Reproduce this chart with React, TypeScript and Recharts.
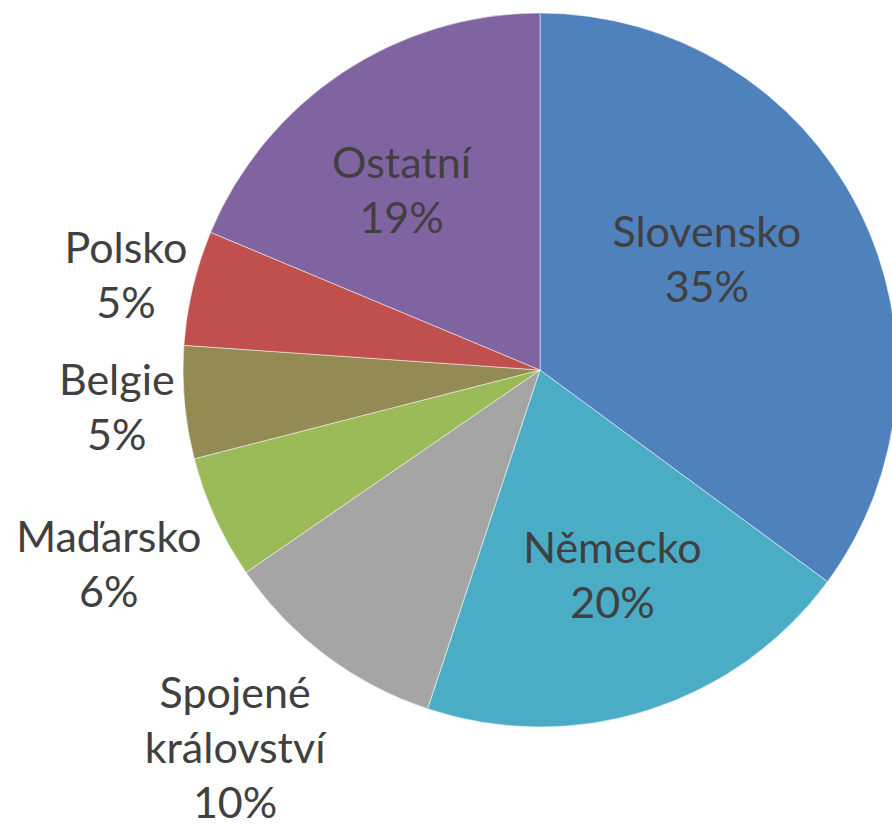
import React from "react";
import { PieChart, Pie, Cell } from "recharts";

const categories = ["Slovensko", "Německo", "Spojené království", "Maďarsko", "Belgie", "Polsko", "Ostatní"];
const shares = [35.1, 20.0, 10.3, 5.6, 5.1, 5.2, 18.7];
const colors = ["#4F81BD", "#4BACC6", "#A5A5A5", "#9BBB59", "#948A54", "#C0504D", "#8064A2"];

// label placement (layout only): radius factor and clockwise angle adjustment
const labelRadius = [0.56, 0.61, 1.36, 1.325, 1.19, 1.19, 0.636];
const labelAngleAdj = [-6.6, -1.8, 2.0, 0.2, 0.2, -0.4, -3.9];

const data = categories.map((name, i) => ({ name, value: shares[i] }));

const RAD = Math.PI / 180;
const FONT = 43;
const LH = 55;

const renderLabel = (props: any) => {
  const { cx, cy, midAngle, outerRadius, percent, index, name } = props;
  const ang = midAngle - labelAngleAdj[index];
  const R = outerRadius * labelRadius[index];
  const x = cx + R * Math.cos(-ang * RAD);
  const y = cy + R * Math.sin(-ang * RAD);
  const lines = String(name).split(" ");
  lines.push(Math.round(percent * 100) + "%");
  const first = y - ((lines.length - 1) * LH) / 2 + FONT * 0.35;
  return (
    <text
      key={"lbl" + index}
      x={x}
      y={first}
      textAnchor="middle"
      fill="#404040"
      style={{ fontFamily: "Lato, 'Open Sans', sans-serif", fontSize: FONT }}
    >
      {lines.map((l, i) => (
        <tspan key={i} x={x} y={first + i * LH}>
          {l}
        </tspan>
      ))}
    </text>
  );
};

export default function App() {
  return (
    <div style={{ position: "absolute", left: 0, top: 0, width: 892, height: 826, background: "#fff" }}>
      <PieChart width={892} height={826} margin={{ top: 0, right: 0, bottom: 0, left: 0 }}>
        <Pie
          data={data}
          dataKey="value"
          nameKey="name"
          cx={540}
          cy={370}
          outerRadius={357}
          startAngle={90}
          endAngle={-270}
          isAnimationActive={false}
          labelLine={false}
          label={renderLabel}
          stroke="#ffffff"
          strokeWidth={1}
          strokeOpacity={0.5}
        >
          {data.map((d, i) => (
            <Cell key={d.name} fill={colors[i]} />
          ))}
        </Pie>
      </PieChart>
    </div>
  );
}
